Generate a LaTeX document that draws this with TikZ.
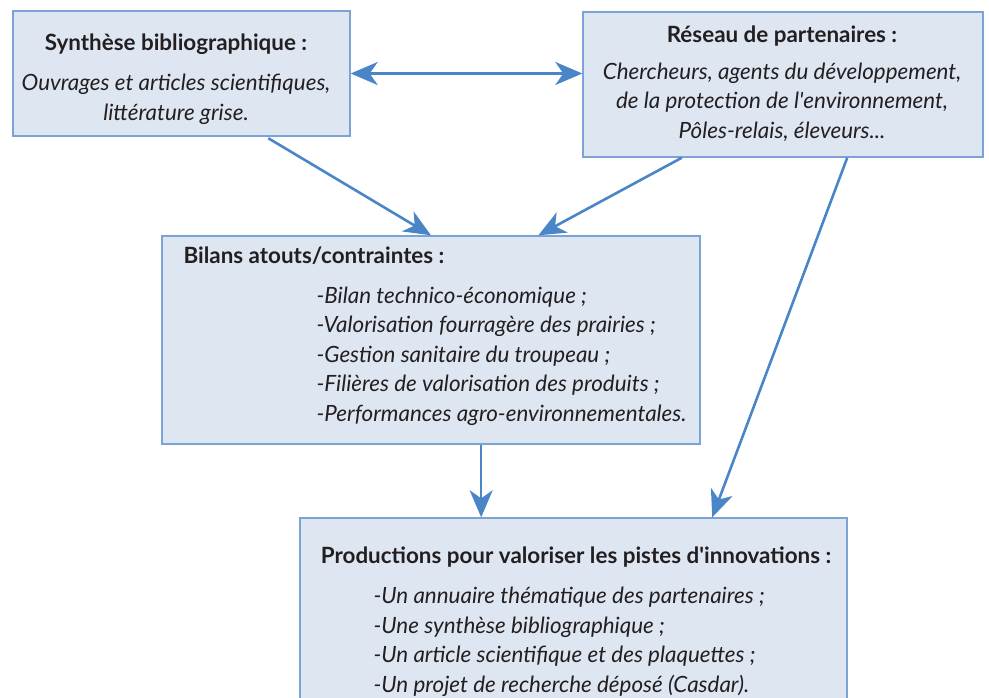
\documentclass[tikz,border=0pt]{standalone}
\usepackage{xcolor}
\usepackage{fontspec}
\setmainfont{Lato}
\usepackage{tikz}
\usetikzlibrary{calc,arrows.meta}

\definecolor{boxfill}{HTML}{DEE6F2}
\definecolor{boxline}{HTML}{7CA3D6}
\definecolor{arrowblue}{HTML}{4A86C7}
\definecolor{inktext}{HTML}{231F20}

\tikzset{
  bloc/.style={draw=boxline, fill=boxfill, line width=1.4pt, inner sep=0pt},
  titre/.style={font=\fontsize{22.4}{26}\selectfont\bfseries, text=inktext, anchor=base},
  liste/.style={font=\fontsize{22.4}{29.5}\selectfont\itshape, text=inktext, anchor=base},
  fleche/.style={draw=arrowblue, line width=2.6pt, -{Stealth[length=27pt,width=23pt,inset=8pt]}}
}

\begin{document}
\begin{tikzpicture}[x=1pt,y=-1pt]
             \useasboundingbox (0,0) rectangle (989,697);

             \node[bloc, minimum width=337pt, minimum height=125pt] (synth) at (181.5,73.5) {};
             \node[bloc, minimum width=400pt, minimum height=145pt] (reseau) at (783,84.5) {};
             \node[bloc, minimum width=538pt, minimum height=208pt] (bilans) at (431,340) {};
             \node[bloc, minimum width=547pt, minimum height=230pt] (prod) at (573.5,633) {};

             % titles and lists (base = last line)
             \node[titre] (synthT) at (176,50) {Synthèse bibliographique :};
             \node[liste, align=center] (synthL) at (176,120) {Ouvrages et articles scientifiques,\\ littérature grise.};

             \node[titre] (reseauT) at (782,42) {Réseau de partenaires :};
             \node[liste, align=center] (reseauL) at (782,138) {Chercheurs, agents du développement,\\ de la protection de l\textquotesingle environnement,\\ Pôles-relais, éleveurs...};

             \node[titre, anchor=base west] (bilansT) at (180,263) {Bilans atouts/contraintes :};
             \node[liste, align=left, anchor=base west] (bilansL) at (313,421) {-Bilan technico-économique ;\\ -Valorisation fourragère des prairies ;\\ -Gestion sanitaire du troupeau ;\\ -Filières de valorisation des produits ;\\ -Performances agro-environnementales.};

             \node[titre] (prodT) at (576,563) {Productions pour valoriser les pistes d\textquotesingle innovations :};
             \node[liste, align=left, anchor=base west] (prodL) at (370,692) {-Un annuaire thématique des partenaires ;\\ -Une synthèse bibliographique ;\\ -Un article scientifique et des plaquettes ;\\ -Un projet de recherche déposé (Casdar).};

             \coordinate (bilansPied) at ($(bilans.south west)!.593!(bilans.south east)$);

             \draw[fleche, {Stealth[length=27pt,width=23pt,inset=8pt]}-{Stealth[length=27pt,width=23pt,inset=8pt]}] (synth.east) -- (synth.east -| reseau.west);
             \draw[fleche, shorten <=3pt] ($(synth.south west)!.749!(synth.south east)$) -- (bilans.north);
             \draw[fleche] ($(reseau.south west)!.248!(reseau.south east)$) -- ($(bilans.north west)!.699!(bilans.north east)$);
             \draw[fleche] ($(reseau.south west)!.66!(reseau.south east)$) -- ($(prod.north west)!.753!(prod.north east)$);
             \draw[fleche] (bilansPied) -- (bilansPied |- prod.north);
\end{tikzpicture}
\end{document}
